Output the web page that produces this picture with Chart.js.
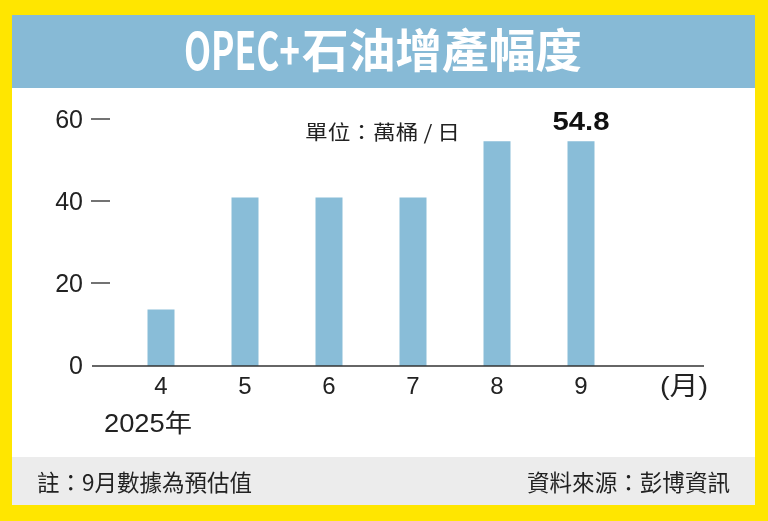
<!DOCTYPE html>
<html>
<head>
<meta charset="utf-8">
<script src="https://cdn.jsdelivr.net/npm/chart.js@4/dist/chart.umd.min.js"></script>
<style>
  html, body { margin: 0; padding: 0; background: #FFE600; }
  canvas { display: block; }
</style>
</head>
<body>
<canvas id="oilChart" width="768" height="521"></canvas>
<script>
// data
const months = ["4", "5", "6", "7", "8", "9", "(月)"];
const output = [13.8, 41.1, 41.1, 41.1, 54.8, 54.8, null];
const yTicks = [0, 20, 40, 60];
const title = "OPEC+石油增產幅度";
const unitText = "單位：萬桶 / 日";
const yearText = "2025年";
const peakLabel = "54.8";
const noteText = "註：9月數據為預估值";
const sourceText = "資料來源：彭博資訊";

const CJK = '"Noto Sans CJK TC", "Noto Sans CJK SC", sans-serif';
const LAT = '"Liberation Sans", Arial, ' + CJK;

// draw text squeezed/stretched to a given width
function fitText(ctx, text, x, y, width, align) {
    const w = ctx.measureText(text).width;
    const s = width / w;
    ctx.save();
    ctx.textAlign = "left";
    let left = x;
    if (align === "center") left = x - width / 2;
    if (align === "right") left = x - width;
    ctx.translate(left, y);
    ctx.scale(s, 1);
    ctx.fillText(text, 0, 0);
    ctx.restore();
}

/* ================= FRAME + DECORATION ================= */
const framePlugin = {
    id: "frame",
    beforeDraw(chart) {
        const ctx = chart.ctx;
        ctx.save();
        ctx.fillStyle = "#FFE600";
        ctx.fillRect(0, 0, chart.width, chart.height);
        ctx.fillStyle = "#87BAD6";
        ctx.fillRect(12, 15, 743, 73);
        ctx.fillStyle = "#FFFFFF";
        ctx.fillRect(12, 88, 743, 369);
        ctx.fillStyle = "#ECECEC";
        ctx.fillRect(12, 457, 743, 48);
        ctx.restore();
    },
    afterDraw(chart) {
        const ctx = chart.ctx;
        const x = chart.scales.x;
        const y = chart.scales.y;
        ctx.save();
        ctx.textBaseline = "middle";

        // title
        ctx.fillStyle = "#FFFFFF";
        ctx.font = "bold 52px " + CJK;
        fitText(ctx, "OPEC+", 184, 50, 116, "left");
        ctx.font = "bold 46px " + CJK;
        fitText(ctx, title.replace("OPEC+", ""), 302, 50, 280, "left");

        // baseline
        const y0 = y.getPixelForValue(0);
        ctx.strokeStyle = "#333333";
        ctx.lineWidth = 1.5;
        ctx.beginPath();
        ctx.moveTo(92, y0);
        ctx.lineTo(704, y0);
        ctx.stroke();

        // y ticks
        ctx.fillStyle = "#222222";
        ctx.font = "25px " + LAT;
        ctx.textAlign = "right";
        yTicks.forEach(function (v) {
            const py = y.getPixelForValue(v);
            ctx.fillText(String(v), 83, py + 1);
            if (v !== 0) {
                ctx.strokeStyle = "#444444";
                ctx.lineWidth = 1.5;
                ctx.beginPath();
                ctx.moveTo(91, py - 1);
                ctx.lineTo(110, py - 1);
                ctx.stroke();
            }
        });

        // x labels
        ctx.textAlign = "center";
        ctx.font = "24px " + LAT;
        months.forEach(function (m, i) {
            const px = x.getPixelForValue(i);
            if (i === months.length - 1) {
                ctx.font = "26px " + LAT;
                fitText(ctx, m, px - 5, 388, 48, "left");
                ctx.font = "24px " + LAT;
            } else {
                ctx.fillText(m, px, 387);
            }
        });

        ctx.font = "25px " + LAT;
        fitText(ctx, yearText, 104, 425, 88, "left");

        // value label above last bar
        const meta = chart.getDatasetMeta(0);
        const lastBar = meta.data[5];
        ctx.font = "bold 25px " + LAT;
        ctx.fillStyle = "#111111";
        fitText(ctx, peakLabel, lastBar.x, lastBar.y - 18, 57, "center");

        // unit
        ctx.fillStyle = "#222222";
        ctx.font = "20px " + CJK;
        fitText(ctx, unitText, 305, 132, 155, "left");

        // footer
        ctx.font = "23px " + CJK;
        fitText(ctx, noteText, 37, 482, 215, "left");
        fitText(ctx, sourceText, 730, 482, 203, "right");

        ctx.restore();
    }
};

new Chart(document.getElementById("oilChart"), {
    type: "bar",
    data: {
        labels: months,
        datasets: [{
            data: output,
            backgroundColor: "#89BDD8",
            barPercentage: 27 / 84,
            categoryPercentage: 1
        }]
    },
    options: {
        responsive: false,
        animation: false,
        layout: { padding: { left: 119, right: 61, top: 120, bottom: 155 } },
        plugins: {
            legend: { display: false },
            tooltip: { enabled: false }
        },
        scales: {
            x: { display: false, offset: true },
            y: { display: false, min: 0, max: 60 }
        }
    },
    plugins: [framePlugin]
});
</script>
</body>
</html>
